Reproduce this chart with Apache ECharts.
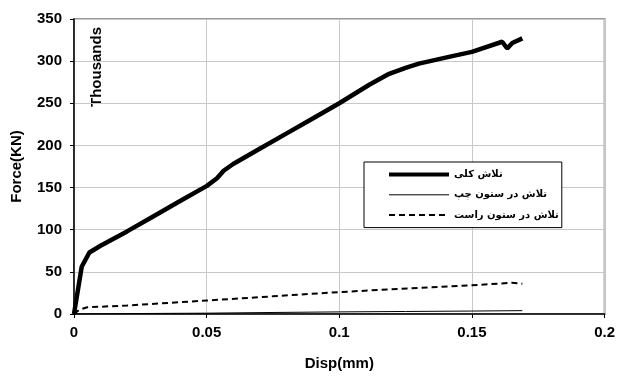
<!DOCTYPE html>
<html>
<head>
<meta charset="utf-8">
<script src="https://cdn.jsdelivr.net/npm/echarts@6/dist/echarts.min.js"></script>
<style>html,body{margin:0;padding:0;background:#fff}#c{width:618px;height:376px}</style>
</head>
<body>
<div id="c"></div>
<script>
var totalName = 'تلاش کلی';
var leftName = 'تلاش در ستون چپ';
var rightName = 'تلاش در ستون راست';
var totalDisp = [0, 0.0029, 0.0058, 0.010, 0.020, 0.030, 0.040, 0.0501, 0.0539, 0.0564, 0.060, 0.070, 0.080, 0.090, 0.100, 0.1113, 0.1188, 0.125, 0.130, 0.1426, 0.150, 0.1614, 0.1633, 0.1652, 0.169];
var totalForce = [0, 56, 73, 81, 98, 116, 134, 152, 161, 170, 178, 196, 214, 232, 250, 272, 285, 292, 297, 306, 311, 323, 315, 321.5, 327];
var leftDisp = [0, 0.02, 0.05, 0.075, 0.1, 0.125, 0.15, 0.169];
var leftForce = [0, 0.5, 1, 1.8, 2.5, 3, 3.5, 4];
var rightDisp = [0, 0.002, 0.005, 0.02, 0.05, 0.075, 0.1, 0.13, 0.15, 0.165, 0.169];
var rightForce = [0, 5, 8, 10, 16, 21, 26, 31, 34, 37, 36];
var xTicks = [0, 0.05, 0.1, 0.15, 0.2];
var yTicks = [0, 50, 100, 150, 200, 250, 300, 350];

function pairs(xs, ys) { return xs.map(function (x, i) { return [x, ys[i]]; }); }

var chart = echarts.init(document.getElementById('c'));
var font = 'Liberation Sans, Arial, sans-serif';
chart.setOption({
  animation: false,
  grid: { left: 74, right: 12, top: 19, bottom: 60, show: true, borderColor: '#999', borderWidth: 2 },
  xAxis: {
    type: 'value', min: xTicks[0], max: xTicks[xTicks.length - 1], interval: 0.05,
    name: 'Disp(mm)', nameLocation: 'middle', nameGap: 42,
    nameTextStyle: { fontFamily: font, fontWeight: 'bold', fontSize: 15, color: '#000' },
    axisLine: { lineStyle: { color: '#000', width: 1.5 } },
    axisTick: { show: true, length: 4, lineStyle: { color: '#000' } },
    axisLabel: { fontFamily: font, fontWeight: 'bold', fontSize: 15, color: '#000', margin: 11 },
    splitLine: { show: true, lineStyle: { color: '#c8c8c8', width: 1 } }
  },
  yAxis: {
    type: 'value', min: yTicks[0], max: yTicks[yTicks.length - 1], interval: 50,
    name: 'Force(KN)', nameLocation: 'middle', nameGap: 50, nameRotate: 90,
    nameTextStyle: { fontFamily: font, fontWeight: 'bold', fontSize: 15, color: '#000' },
    axisLine: { show: true, lineStyle: { color: '#000', width: 1.5 } },
    axisTick: { show: true, length: 4, lineStyle: { color: '#000' } },
    axisLabel: { fontFamily: font, fontWeight: 'bold', fontSize: 15, color: '#000', margin: 12 },
    splitLine: { show: true, lineStyle: { color: '#c8c8c8', width: 1 } }
  },
  legend: {
    orient: 'vertical', left: 364, top: 162,
    backgroundColor: '#fff', borderColor: '#000', borderWidth: 1,
    padding: [7, 3, 7, 23], itemGap: 9, itemWidth: 60, itemHeight: 14,
    itemStyle: { opacity: 0 },
    textStyle: { fontFamily: 'DejaVu Sans, sans-serif', fontWeight: 'bold', fontSize: 10, color: '#000' },
    data: [
      { name: totalName, lineStyle: { width: 4, color: '#000' } },
      { name: leftName, lineStyle: { width: 1, color: '#000' } },
      { name: rightName, lineStyle: { width: 2, color: '#000', type: [6, 4] } }
    ]
  },
  graphic: [{
    type: 'text', left: 89, top: 27, rotation: Math.PI / 2,
    style: { text: 'Thousands', font: 'bold 15px Liberation Sans, Arial, sans-serif', fill: '#000' }
  }],
  series: [
    { name: totalName, type: 'line', symbol: 'none', data: pairs(totalDisp, totalForce),
      lineStyle: { color: '#000', width: 4.5 }, itemStyle: { color: '#000' }, z: 5 },
    { name: leftName, type: 'line', symbol: 'none', data: pairs(leftDisp, leftForce),
      lineStyle: { color: '#000', width: 1 }, itemStyle: { color: '#000' } },
    { name: rightName, type: 'line', symbol: 'none', data: pairs(rightDisp, rightForce),
      lineStyle: { color: '#000', width: 2, type: [6, 4] }, itemStyle: { color: '#000' } }
  ]
});
</script>
</body>
</html>
